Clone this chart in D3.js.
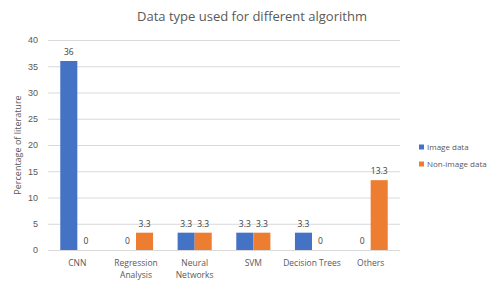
<!DOCTYPE html>
<html lang="en">
<head>
  <meta charset="UTF-8">
  <title>Data type used for different algorithm</title>
  <script src="https://d3js.org/d3.v7.min.js"></script>
  <style>
    body { margin: 0; padding: 0; background: #fff; }
    svg { display: block; font-family: "Open Sans", sans-serif; }
    .tick text { fill: #595959; font-size: 9px; }
    .label { fill: #404040; font-size: 8.5px; }
  </style>
</head>
<body>
  <div id="chart"></div>
  <script>
    const categories = [["CNN"], ["Regression", "Analysis"], ["Neural", "Networks"], ["SVM"], ["Decision Trees"], ["Others"]];
    const seriesNames = ["Image data", "Non-image data"];
    const imageData = [36, 0, 3.3, 3.3, 3.3, 0];
    const nonImageData = [0, 3.3, 3.3, 3.3, 0, 13.3];
    const yTicks = [0, 5, 10, 15, 20, 25, 30, 35, 40];
    const colors = ["#4472C4", "#ED7D31"];

    const width = 498, height = 285;
    const margin = { top: 40, right: 98, bottom: 35, left: 48 };

    const svg = d3.select('#chart').append('svg')
      .attr('width', width)
      .attr('height', height);

    const x = d3.scaleBand()
      .domain(d3.range(categories.length))
      .range([margin.left, width - margin.right]);

    const xInner = d3.scaleBand()
      .domain([0, 1])
      .range([0, x.bandwidth()])
      .paddingOuter(0.72);

    const y = d3.scaleLinear()
      .domain([0, 40])
      .range([height - margin.bottom, margin.top]);

    // gridlines
    svg.append('g')
      .selectAll('line')
      .data(yTicks)
      .join('line')
      .attr('x1', margin.left)
      .attr('x2', width - margin.right)
      .attr('y1', d => y(d) + 0.5)
      .attr('y2', d => y(d) + 0.5)
      .attr('stroke', '#d9d9d9')
      .attr('stroke-width', 1);

    // y axis
    const yAxis = svg.append('g')
      .attr('transform', `translate(${margin.left},0)`)
      .call(d3.axisLeft(y).tickValues(yTicks).tickSize(0).tickPadding(10));
    yAxis.select('.domain').remove();

    svg.append('text')
      .attr('transform', `translate(21,${(margin.top + height - margin.bottom) / 2}) rotate(-90)`)
      .attr('text-anchor', 'middle')
      .attr('fill', '#595959')
      .style('font-size', '9px')
      .text('Percentage of literature');

    // bars
    const rows = categories.map((c, i) => [imageData[i], nonImageData[i]]);
    const groups = svg.append('g')
      .selectAll('g')
      .data(rows)
      .join('g')
      .attr('transform', (d, i) => `translate(${x(i)},0)`);

    groups.selectAll('rect')
      .data(d => d.map((v, s) => ({ v, s })))
      .join('rect')
      .attr('x', d => xInner(d.s))
      .attr('width', xInner.bandwidth())
      .attr('y', d => y(d.v))
      .attr('height', d => y(0) - y(d.v))
      .attr('fill', d => colors[d.s]);

    groups.selectAll('text')
      .data(d => d.map((v, s) => ({ v, s })))
      .join('text')
      .attr('class', 'label')
      .attr('x', d => xInner(d.s) + xInner.bandwidth() / 2)
      .attr('y', d => y(d.v) - 6)
      .attr('text-anchor', 'middle')
      .text(d => d.v);

    // x labels, one text per line
    categories.forEach((lines, i) => {
      svg.append('g')
        .selectAll('text')
        .data(lines)
        .join('text')
        .attr('x', x(i) + x.bandwidth() / 2)
        .attr('y', (d, j) => height - margin.bottom + 16 + j * 11.5)
        .attr('text-anchor', 'middle')
        .attr('fill', '#595959')
        .style('font-size', '8.5px')
        .text(d => d);
    });

    // title
    svg.append('text')
      .attr('x', 252)
      .attr('y', 21)
      .attr('text-anchor', 'middle')
      .attr('fill', '#595959')
      .style('font-size', '13px')
      .text('Data type used for different algorithm');

    // legend
    const legend = svg.append('g')
      .selectAll('g')
      .data(seriesNames)
      .join('g')
      .attr('transform', (d, i) => `translate(419,${147 + i * 17})`);
    legend.append('rect')
      .attr('x', 0).attr('y', -2.5)
      .attr('width', 5).attr('height', 5)
      .attr('fill', (d, i) => colors[i]);
    legend.append('text')
      .attr('x', 8)
      .attr('dy', '0.35em')
      .attr('fill', '#595959')
      .style('font-size', '8px')
      .text(d => d);
  </script>
</body>
</html>
